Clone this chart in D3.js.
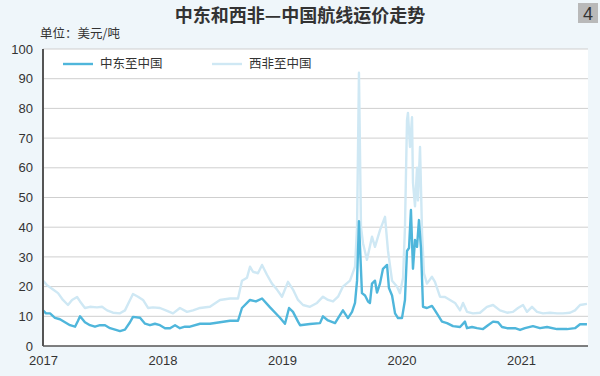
<!DOCTYPE html>
<html>
<head>
<meta charset="utf-8">
<script src="https://cdn.jsdelivr.net/npm/d3@7"></script>
<style>
  body { margin: 0; background: #eff6fa; }
  svg { display: block; font-family: "Liberation Sans", Arial, "Noto Sans CJK SC", sans-serif; }
</style>
</head>
<body>
<div id="chart"></div>
<script>
// decimal years + values
var meT = [2017.000, 2017.025, 2017.059, 2017.100, 2017.142, 2017.184, 2017.226, 2017.268, 2017.293, 2017.310,
  2017.351, 2017.393, 2017.435, 2017.477, 2017.519, 2017.561, 2017.603, 2017.644, 2017.686, 2017.728,
  2017.753, 2017.812, 2017.854, 2017.895, 2017.937, 2017.979, 2018.021, 2018.063, 2018.105, 2018.146,
  2018.188, 2018.230, 2018.314, 2018.397, 2018.481, 2018.565, 2018.632, 2018.665, 2018.732, 2018.782,
  2018.833, 2018.900, 2018.983, 2019.025, 2019.059, 2019.092, 2019.134, 2019.151, 2019.234, 2019.318,
  2019.343, 2019.385, 2019.444, 2019.485, 2019.510, 2019.552, 2019.586, 2019.611, 2019.628, 2019.644,
  2019.669, 2019.695, 2019.720, 2019.736, 2019.753, 2019.778, 2019.795, 2019.820, 2019.845, 2019.879,
  2019.895, 2019.921, 2019.946, 2019.971, 2020.004, 2020.029, 2020.046, 2020.063, 2020.079, 2020.096,
  2020.113, 2020.130, 2020.146, 2020.163, 2020.180, 2020.213, 2020.255, 2020.280, 2020.305, 2020.339,
  2020.381, 2020.431, 2020.490, 2020.531, 2020.548, 2020.590, 2020.632, 2020.682, 2020.724, 2020.766,
  2020.808, 2020.841, 2020.883, 2020.950, 2020.992, 2021.033, 2021.100, 2021.159, 2021.218, 2021.301,
  2021.385, 2021.452, 2021.494, 2021.552];
var meVal = [12, 11, 11, 9.5, 9, 8, 7, 6.5, 8.5, 10,
  8, 7, 6.5, 7, 7, 6, 5.5, 5, 5.5, 8,
  9.8, 9.5, 7.5, 7, 7.5, 7, 6, 6, 7, 6,
  6.5, 6.5, 7.5, 7.5, 8, 8.5, 8.5, 12.8, 15.5, 15,
  16, 13, 9.5, 7.5, 12.8, 11.5, 8.2, 7, 7.4, 7.7,
  10, 8.6, 7.7, 10.4, 12, 9.4, 11.5, 14.5, 22, 42,
  17.8, 17, 15, 14.5, 21, 22, 18, 21, 26, 27.3,
  19.5, 17, 11, 9.4, 9.4, 15.5, 32, 33, 45.8, 26,
  35.7, 33.4, 42.4, 33, 13.2, 12.8, 13.5, 12, 10.4, 8.2,
  7.7, 6.7, 6.4, 8.2, 6, 6.4, 6, 5.7, 7, 8.2,
  8, 6.4, 6, 6, 5.4, 6, 6.7, 6, 6.4, 5.7,
  5.7, 6, 7.3, 7.3];

var waT = [2017.000, 2017.033, 2017.084, 2017.126, 2017.167, 2017.209, 2017.243, 2017.285, 2017.310, 2017.351,
  2017.393, 2017.452, 2017.494, 2017.536, 2017.586, 2017.644, 2017.686, 2017.728, 2017.753, 2017.795,
  2017.837, 2017.879, 2017.921, 2017.979, 2018.038, 2018.088, 2018.146, 2018.205, 2018.255, 2018.314,
  2018.397, 2018.481, 2018.565, 2018.632, 2018.665, 2018.707, 2018.732, 2018.757, 2018.799, 2018.833,
  2018.874, 2018.916, 2018.958, 2019.000, 2019.050, 2019.092, 2019.134, 2019.176, 2019.234, 2019.293,
  2019.343, 2019.385, 2019.427, 2019.469, 2019.510, 2019.569, 2019.611, 2019.628, 2019.644, 2019.661,
  2019.678, 2019.711, 2019.753, 2019.778, 2019.820, 2019.862, 2019.887, 2019.921, 2019.962, 2019.987,
  2020.013, 2020.029, 2020.046, 2020.054, 2020.071, 2020.088, 2020.096, 2020.113, 2020.130, 2020.138,
  2020.155, 2020.172, 2020.188, 2020.213, 2020.255, 2020.280, 2020.322, 2020.364, 2020.406, 2020.448,
  2020.490, 2020.515, 2020.548, 2020.598, 2020.657, 2020.715, 2020.766, 2020.824, 2020.883, 2020.933,
  2020.975, 2021.017, 2021.050, 2021.092, 2021.134, 2021.184, 2021.243, 2021.301, 2021.351, 2021.410,
  2021.452, 2021.494, 2021.552];
var waVal = [22, 20.5, 19, 17.8, 15.5, 13.8, 15.5, 16.5, 15, 12.8,
  13.2, 13, 13.2, 12, 11.2, 11, 12, 15.5, 17.5, 16.6,
  15.5, 12.8, 13, 12.8, 11.8, 11, 12.8, 11.5, 12, 12.8,
  13.2, 15.5, 16, 16, 22, 23, 26.7, 25, 24.5, 27.3,
  24, 21, 19, 16.6, 21.6, 19, 15.5, 13.8, 13.2, 14.5,
  16.6, 15.5, 15, 16.6, 20, 22, 26.7, 40, 92, 40,
  34.6, 29, 36.8, 33.4, 39, 43.5, 32, 22, 20, 17.8,
  23, 40, 76, 78.5, 67, 77, 55, 47, 60, 49,
  67, 38, 24.5, 21, 23.3, 21.6, 16.6, 16.5, 15.5, 14.5,
  12, 14.5, 11.5, 11, 11.2, 13.2, 13.8, 12, 11.2, 11.5,
  12.8, 13.8, 11.5, 13.2, 11.5, 11, 11.2, 11, 11, 11.2,
  12, 13.8, 14.2];

var seriesNames = ["中东至中国", "西非至中国"];
var seriesColors = ["#4fb6db", "#cfe8f4"];
var yTicks = [0, 10, 20, 30, 40, 50, 60, 70, 80, 90, 100];
var xTicks = [2017, 2018, 2019, 2020, 2021];

var W = 600, H = 376;
var margin = {top: 49, right: 12, bottom: 30, left: 43};
var width = W - margin.left - margin.right;
var height = H - margin.top - margin.bottom;

var svg = d3.select("#chart").append("svg")
  .attr("width", W)
  .attr("height", H);

svg.append("text")
  .attr("x", 300)
  .attr("y", 22)
  .attr("text-anchor", "middle")
  .style("font-size", "18px")
  .style("font-weight", "bold")
  .style("fill", "#333")
  .style("font-family", "'Noto Sans CJK SC', sans-serif")
  .text("中东和西非—中国航线运价走势");

svg.append("rect")
  .attr("x", 578).attr("y", 3)
  .attr("width", 20).attr("height", 20)
  .style("fill", "#b9b9b9");
svg.append("text")
  .attr("x", 588).attr("y", 20)
  .attr("text-anchor", "middle")
  .style("font-size", "18px")
  .style("fill", "#333")
  .text("4");

svg.append("text")
  .attr("x", 40)
  .attr("y", 38)
  .style("font-size", "12.5px")
  .style("fill", "#333")
  .style("font-family", "'Noto Sans CJK SC', sans-serif")
  .text("单位：美元/吨");

var g = svg.append("g")
  .attr("transform", "translate(" + margin.left + "," + margin.top + ")");

g.append("rect")
  .attr("width", width)
  .attr("height", height)
  .style("fill", "#fff");

var x = d3.scaleLinear()
  .domain([2017, 2017 + width / 119.5])
  .range([0, width]);

var y = d3.scaleLinear()
  .domain([0, 100])
  .range([height, 0]);

// gridlines
g.selectAll(".grid")
  .data(yTicks.slice(1))
  .enter().append("line")
  .attr("x1", 0)
  .attr("x2", width)
  .attr("y1", function(d) { return y(d); })
  .attr("y2", function(d) { return y(d); })
  .style("stroke", "#cfcfcf")
  .style("stroke-width", 1);

var yAxis = g.append("g")
  .call(d3.axisLeft(y).tickValues(yTicks).tickSize(0).tickPadding(10));
yAxis.select(".domain").remove();
yAxis.selectAll("text").style("font-size", "13px").style("fill", "#333");

var xAxis = g.append("g")
  .attr("transform", "translate(0," + height + ")")
  .call(d3.axisBottom(x).tickValues(xTicks).tickFormat(d3.format("d")).tickSize(0).tickPadding(10));
xAxis.select(".domain").remove();
xAxis.selectAll("text").style("font-size", "13px").style("fill", "#333");

var line = d3.line()
  .x(function(d) { return x(d[0]); })
  .y(function(d) { return y(d[1]); });

var seriesData = [d3.zip(meT, meVal), d3.zip(waT, waVal)];

// light series under the dark one
[1, 0].forEach(function(i) {
  g.append("path")
    .datum(seriesData[i])
    .attr("d", line)
    .style("fill", "none")
    .style("stroke", seriesColors[i])
    .style("stroke-width", 2.4)
    .style("stroke-linejoin", "round");
});

// axis lines
g.append("line")
  .attr("x1", 0).attr("x2", width)
  .attr("y1", height).attr("y2", height)
  .style("stroke", "#555").style("stroke-width", 1.5);
g.append("line")
  .attr("x1", 0).attr("x2", 0)
  .attr("y1", 0).attr("y2", height)
  .style("stroke", "#555").style("stroke-width", 2);

// legend
var legend = g.selectAll(".legend")
  .data(seriesNames)
  .enter().append("g")
  .attr("transform", function(d, i) { return "translate(" + (20 + i * 149) + ",15)"; });
legend.append("line")
  .attr("x1", 0).attr("x2", 30)
  .style("stroke", function(d, i) { return seriesColors[i]; })
  .style("stroke-width", 2.4);
legend.append("text")
  .attr("x", 37)
  .attr("dy", "0.35em")
  .style("font-size", "12.5px")
  .style("fill", "#333")
  .style("font-family", "'Noto Sans CJK SC', sans-serif")
  .text(function(d) { return d; });
</script>
</body>
</html>
